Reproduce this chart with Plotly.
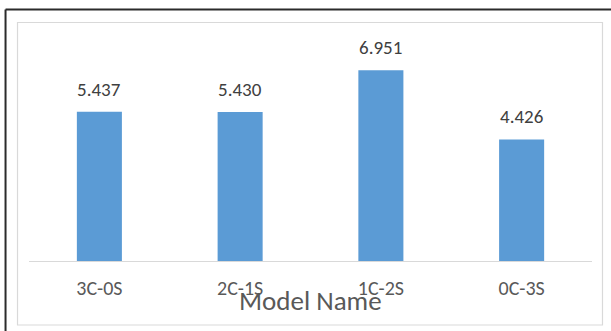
import plotly.graph_objects as go

# Bar chart: score per model configuration
models = ["3C-0S", "2C-1S", "1C-2S", "0C-3S"]
scores = [5.437, 5.430, 6.951, 4.426]
value_labels = ["5.437", "5.430", "6.951", "4.426"]

W, H = 611, 331
M_L, M_R, M_T, M_B = 28.5, 18.5, 40, 70
PW, PH = W - M_L - M_R, H - M_T - M_B

FONT = "Carlito, Calibri, Lato, 'Open Sans', sans-serif"


def px_x(x):
    return (x - M_L) / PW


def px_y(y):
    return (H - M_B - y) / PH


fig = go.Figure(
    go.Bar(
        x=models,
        y=scores,
        width=0.32,
        marker=dict(color="#5B9BD5", line=dict(width=0)),
        hoverinfo="skip",
    )
)

annotations = [
    dict(
        x=m, y=v, xref="x", yref="y", text=t, showarrow=False,
        yanchor="bottom", yshift=9,
        font=dict(family=FONT, size=19, color="#404040"),
    )
    for m, v, t in zip(models, scores, value_labels)
]
annotations.append(
    dict(
        x=0.5, xref="paper", y=px_y(319), yref="paper", text="Model Name",
        showarrow=False, yanchor="bottom",
        font=dict(family=FONT, size=27, color="#595959"),
    )
)

shapes = [
    # inner chart frame
    dict(type="rect", xref="paper", yref="paper",
         x0=px_x(17), x1=px_x(603), y0=px_y(325), y1=px_y(22.5),
         line=dict(color="#d9d9d9", width=1.2), layer="below"),
    # outer dark frame edges
    dict(type="line", xref="paper", yref="paper",
         x0=px_x(5), x1=px_x(612), y0=px_y(9.5), y1=px_y(9.5),
         line=dict(color="#2b2b2b", width=2)),
    dict(type="line", xref="paper", yref="paper",
         x0=px_x(5), x1=px_x(5), y0=px_y(9.5), y1=px_y(332),
         line=dict(color="#2b2b2b", width=2)),
]

fig.update_layout(
    width=W, height=H,
    margin=dict(l=M_L, r=M_R, t=M_T, b=M_B, pad=0),
    paper_bgcolor="white", plot_bgcolor="white",
    showlegend=False,
    annotations=annotations,
    shapes=shapes,
    xaxis=dict(
        showline=True, linecolor="#d9d9d9", linewidth=1.2,
        showgrid=False, zeroline=False,
        ticks="outside", ticklen=9, tickcolor="rgba(0,0,0,0)",
        tickfont=dict(family=FONT, size=20, color="#595959"),
        fixedrange=True,
    ),
    yaxis=dict(
        range=[0, PH / 27.46], visible=False, showgrid=False,
        zeroline=False, fixedrange=True,
    ),
)

fig.write_html("out.html", config={"displayModeBar": False})
